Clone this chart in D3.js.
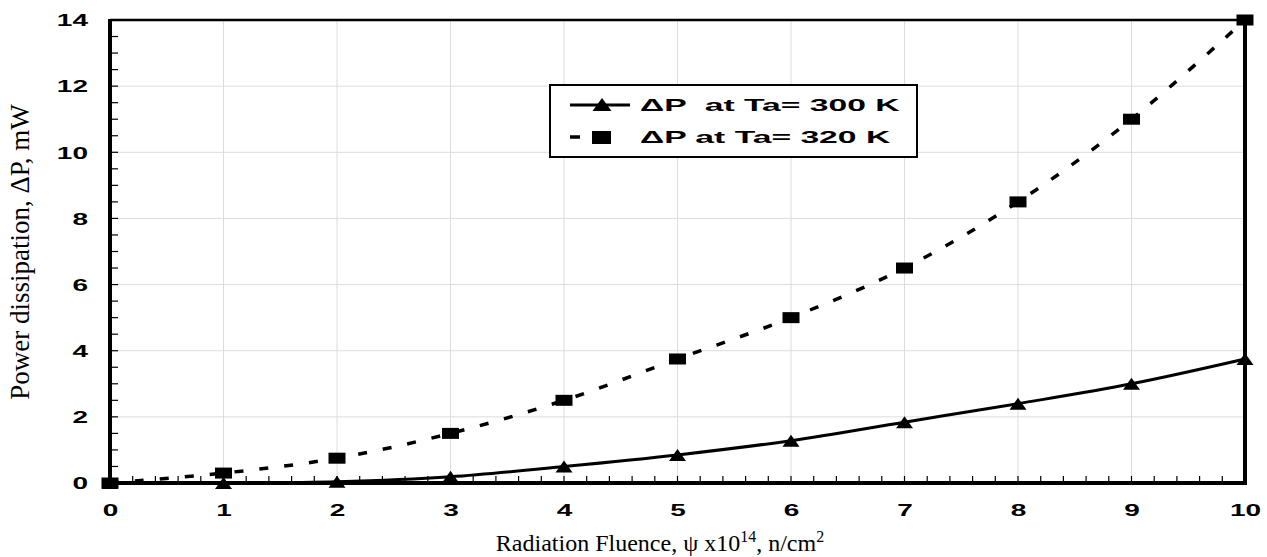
<!DOCTYPE html>
<html>
<head>
<meta charset="utf-8">
<script src="https://cdn.jsdelivr.net/npm/d3@7"></script>
<style>
  body { margin: 0; background: #fff; }
  .tick text { font-family: "Liberation Sans", Arial, sans-serif; font-weight: bold; font-size: 16px; fill: #000; }
</style>
</head>
<body>
<svg id="chart" width="1267" height="557"></svg>
<script>
// fluence (x10^14 n/cm^2)
var fluence = [0, 1, 2, 3, 4, 5, 6, 7, 8, 9, 10];
// power dissipation, mW
var dp300 = [0, 0, 0.04, 0.19, 0.5, 0.85, 1.28, 1.84, 2.4, 3.0, 3.75];
var dp320 = [0, 0.3, 0.75, 1.5, 2.5, 3.75, 5.0, 6.5, 8.5, 11.0, 14.0];
var xTicks = [0, 1, 2, 3, 4, 5, 6, 7, 8, 9, 10];
var yTicks = [0, 2, 4, 6, 8, 10, 12, 14];
var seriesNames = ['\u0394P  at Ta= 300 K', '\u0394P at Ta= 320 K'];

var svg = d3.select('#chart'),
    m = { left: 110, right: 1245, top: 20, bottom: 483 },
    stretch = 1.75;   // the wide bold labels of the original

var x = d3.scaleLinear().domain([0, 10]).range([m.left, m.right]);
var y = d3.scaleLinear().domain([0, 14]).range([m.bottom, m.top]);

// grid
svg.append('g').selectAll('line').data(xTicks.slice(1, -1)).enter().append('line')
    .attr('x1', d => x(d)).attr('x2', d => x(d))
    .attr('y1', m.top).attr('y2', m.bottom)
    .attr('stroke', '#dcdcdc').attr('stroke-width', 1);
svg.append('g').selectAll('line').data(yTicks.slice(1, -1)).enter().append('line')
    .attr('x1', m.left).attr('x2', m.right)
    .attr('y1', d => y(d)).attr('y2', d => y(d))
    .attr('stroke', '#dcdcdc').attr('stroke-width', 1);

// minor ticks (inside)
var xMinor = d3.range(0, 10.001, 0.2), yMinor = d3.range(0, 14.001, 0.5);
svg.append('g').selectAll('line').data(xMinor).enter().append('line')
    .attr('x1', d => x(d)).attr('x2', d => x(d))
    .attr('y1', m.bottom).attr('y2', m.bottom - 7)
    .attr('stroke', '#000').attr('stroke-width', 1.2);
svg.append('g').selectAll('line').data(yMinor).enter().append('line')
    .attr('x1', m.left).attr('x2', m.left + 8)
    .attr('y1', d => y(d)).attr('y2', d => y(d))
    .attr('stroke', '#000').attr('stroke-width', 1.2);

// axes (labels only; frame drawn separately)
var xAxis = svg.append('g').attr('transform', 'translate(0,' + m.bottom + ')')
    .call(d3.axisBottom(x).tickValues(xTicks).tickSize(0).tickPadding(22).tickFormat(d3.format('d')));
var yAxis = svg.append('g').attr('transform', 'translate(' + m.left + ',0)')
    .call(d3.axisLeft(y).tickValues(yTicks).tickSize(0).tickFormat(d3.format('d')));
xAxis.select('.domain').remove();
yAxis.select('.domain').remove();
xAxis.selectAll('.tick text').attr('transform', 'scale(' + stretch + ',1)');
yAxis.selectAll('.tick text')
    .attr('x', -22 / stretch).attr('dy', '0.36em')
    .attr('transform', 'scale(' + stretch + ',1)');

// frame
svg.append('line').attr('x1', m.left).attr('x2', m.right).attr('y1', m.top).attr('y2', m.top)
    .attr('stroke', '#000').attr('stroke-width', 2.5);
svg.append('line').attr('x1', m.left - 2).attr('x2', m.right + 2).attr('y1', m.bottom).attr('y2', m.bottom)
    .attr('stroke', '#000').attr('stroke-width', 4);
svg.append('line').attr('x1', m.left).attr('x2', m.left).attr('y1', m.top - 1).attr('y2', m.bottom + 2)
    .attr('stroke', '#000').attr('stroke-width', 4);
svg.append('line').attr('x1', m.right).attr('x2', m.right).attr('y1', m.top - 1).attr('y2', m.bottom + 2)
    .attr('stroke', '#000').attr('stroke-width', 4);

// lines
var line = d3.line().x(d => x(d[0])).y(d => y(d[1])).curve(d3.curveCatmullRom.alpha(0.5));
var d300 = fluence.map((f, i) => [f, dp300[i]]);
var d320 = fluence.map((f, i) => [f, dp320[i]]);

svg.append('path').datum(d320).attr('d', line)
    .attr('fill', 'none').attr('stroke', '#000').attr('stroke-width', 3.5)
    .attr('stroke-dasharray', '9,16');
svg.append('path').datum(d300).attr('d', line)
    .attr('fill', 'none').attr('stroke', '#000').attr('stroke-width', 3);

// markers
var tri = 'M0,-6L8.5,6L-8.5,6Z';
svg.append('g').selectAll('path').data(d300).enter().append('path')
    .attr('d', tri)
    .attr('transform', d => 'translate(' + x(d[0]) + ',' + y(d[1]) + ')')
    .attr('fill', '#000');
svg.append('g').selectAll('rect').data(d320).enter().append('rect')
    .attr('x', d => x(d[0]) - 8.5).attr('y', d => y(d[1]) - 5.5)
    .attr('width', 17).attr('height', 11).attr('fill', '#000');

// legend
var lg = svg.append('g');
lg.append('rect').attr('x', 550).attr('y', 85).attr('width', 367).attr('height', 72)
    .attr('fill', '#fff').attr('stroke', '#000').attr('stroke-width', 2);
lg.append('line').attr('x1', 570).attr('x2', 630).attr('y1', 105).attr('y2', 105)
    .attr('stroke', '#000').attr('stroke-width', 3);
lg.append('path').attr('d', 'M0,-7L9.5,6L-9.5,6Z').attr('transform', 'translate(602,105)').attr('fill', '#000');
lg.append('line').attr('x1', 570).attr('x2', 580).attr('y1', 137).attr('y2', 137)
    .attr('stroke', '#000').attr('stroke-width', 3.5);
lg.append('rect').attr('x', 592).attr('y', 131).attr('width', 19).attr('height', 13).attr('fill', '#000');
lg.selectAll('text').data(seriesNames).enter().append('text')
    .attr('transform', (d, i) => 'translate(640,' + (105 + i * 32) + ') scale(1.98,1)')
    .attr('dy', '0.36em')
    .attr('xml:space', 'preserve')
    .style('white-space', 'pre')
    .attr('font-family', '"Liberation Sans", Arial, sans-serif')
    .attr('font-weight', 'bold').attr('font-size', 17)
    .text(d => d);

// axis titles
svg.append('text')
    .attr('transform', 'translate(29,252) rotate(-90)')
    .attr('text-anchor', 'middle')
    .attr('font-family', '"Liberation Serif", "Times New Roman", serif')
    .attr('font-size', 27)
    .text('Power dissipation, \u0394P, mW');

var xt = svg.append('text')
    .attr('x', 660).attr('y', 551)
    .attr('text-anchor', 'middle')
    .attr('font-family', '"Liberation Serif", "Times New Roman", serif')
    .attr('font-size', 24);
xt.append('tspan').text('Radiation Fluence, \u03C8 x10');
xt.append('tspan').attr('dy', -9).attr('font-size', 16).text('14');
xt.append('tspan').attr('dy', 9).text(', n/cm');
xt.append('tspan').attr('dy', -9).attr('font-size', 16).text('2');
</script>
</body>
</html>
